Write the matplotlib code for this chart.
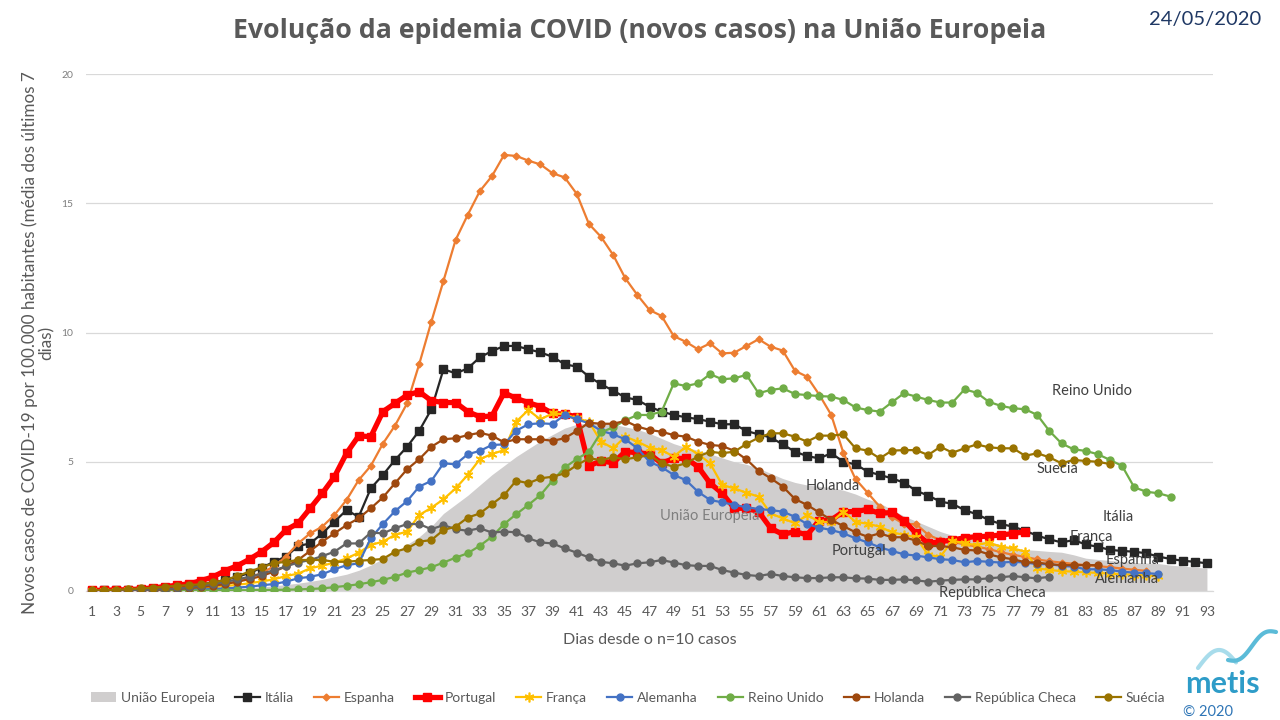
import numpy as np
import matplotlib
matplotlib.use("Agg")
import matplotlib.pyplot as plt
from matplotlib.patches import Patch
from matplotlib.lines import Line2D

plt.rcParams['font.family'] = ['Lato', 'DejaVu Sans']

# ---------------- data ----------------
tick_days = list(range(1, 94, 2))
y_ticks = [0, 5, 10, 15, 20]

uniao_europeia = [0.0, 0.0, 0.01, 0.01, 0.02, 0.02, 0.03, 0.04, 0.05, 0.06,
                  0.07, 0.09, 0.11, 0.13, 0.16, 0.2, 0.25, 0.3, 0.37, 0.45,
                  0.55, 0.65, 0.8, 1.0, 1.25, 1.5, 1.8, 2.1, 2.5, 3.0,
                  3.35, 3.7, 4.1, 4.5, 4.85, 5.2, 5.5, 5.8, 6.05, 6.3,
                  6.45, 6.5, 6.5, 6.45, 6.35, 6.25, 6.1, 5.9, 5.7, 5.55,
                  5.45, 5.3, 5.15, 5.0, 4.9, 4.75, 4.55, 4.35, 4.2, 4.1,
                  4.05, 4.0, 3.9, 3.75, 3.55, 3.4, 3.15, 2.9, 2.7, 2.5,
                  2.3, 2.15, 2.05, 1.97, 1.9, 1.8, 1.65, 1.6, 1.57, 1.53,
                  1.5, 1.4, 1.27, 1.22, 1.18, 1.14, 1.1, 1.08, 1.06, 1.0,
                  0.96, 0.92, 0.88]

italia = [0.01, 0.02, 0.03, 0.04, 0.05, 0.08, 0.1, 0.14, 0.2, 0.26,
          0.33, 0.43, 0.55, 0.7, 0.9, 1.13, 1.33, 1.74, 1.84, 2.23,
          2.68, 3.13, 2.87, 3.97, 4.49, 5.07, 5.58, 6.2, 7.03, 8.58,
          8.42, 8.61, 9.04, 9.28, 9.48, 9.48, 9.35, 9.23, 9.06, 8.77,
          8.68, 8.29, 8.0, 7.75, 7.49, 7.39, 7.13, 6.94, 6.81, 6.72,
          6.65, 6.55, 6.45, 6.45, 6.19, 6.06, 5.94, 5.67, 5.39, 5.22,
          5.13, 5.33, 5.0, 4.9, 4.62, 4.49, 4.36, 4.19, 3.88, 3.69,
          3.46, 3.37, 3.13, 2.97, 2.75, 2.59, 2.49, 2.33, 2.14, 2.0,
          1.88, 1.97, 1.8, 1.71, 1.59, 1.55, 1.52, 1.46, 1.33, 1.24,
          1.17, 1.13, 1.07]

espanha = [0.01, 0.02, 0.02, 0.03, 0.04, 0.05, 0.07, 0.09, 0.12, 0.15,
           0.2, 0.27, 0.38, 0.52, 0.7, 0.95, 1.33, 1.84, 2.23, 2.49,
           2.94, 3.52, 4.29, 4.84, 5.7, 6.4, 7.26, 8.78, 10.42, 12.0,
           13.58, 14.55, 15.47, 16.05, 16.87, 16.83, 16.65, 16.5, 16.16, 16.0,
           15.36, 14.2, 13.7, 13.0, 12.1, 11.45, 10.87, 10.64, 9.86, 9.64,
           9.35, 9.58, 9.19, 9.22, 9.48, 9.74, 9.45, 9.3, 8.52, 8.29,
           7.6, 6.81, 5.34, 4.33, 3.8, 3.26, 2.87, 2.59, 2.59, 2.17,
           1.97, 1.9, 1.8, 1.72, 1.62, 1.5, 1.4, 1.32, 1.22, 1.15,
           1.1, 1.05, 1.0, 0.96, 0.92, 0.87, 0.82, 0.78]

portugal = [0.02, 0.03, 0.04, 0.05, 0.08, 0.12, 0.17, 0.22, 0.28, 0.4,
            0.55, 0.79, 0.98, 1.23, 1.52, 1.88, 2.36, 2.62, 3.2, 3.78,
            4.42, 5.33, 6.0, 5.97, 6.94, 7.26, 7.58, 7.71, 7.36, 7.29,
            7.29, 6.94, 6.74, 6.77, 7.67, 7.45, 7.29, 7.13, 6.87, 6.84,
            6.74, 4.84, 5.03, 4.96, 5.39, 5.35, 5.3, 4.94, 5.13, 5.13,
            4.81, 4.17, 3.78, 3.2, 3.2, 3.07, 2.43, 2.19, 2.3, 2.17,
            2.72, 2.75, 3.07, 3.07, 3.16, 3.0, 3.04, 2.72, 2.23, 1.84,
            1.91, 1.97, 2.06, 2.1, 2.12, 2.17, 2.22, 2.3]

franca = [0.0, 0.01, 0.01, 0.02, 0.03, 0.04, 0.05, 0.07, 0.09, 0.12,
          0.15, 0.19, 0.24, 0.3, 0.37, 0.45, 0.58, 0.67, 0.88, 0.98,
          1.1, 1.26, 1.48, 1.78, 1.91, 2.17, 2.3, 2.94, 3.22, 3.55,
          3.97, 4.49, 5.1, 5.3, 5.45, 6.55, 7.0, 6.64, 6.87, 6.84,
          6.68, 6.55, 5.78, 5.52, 5.97, 5.78, 5.55, 5.45, 5.2, 5.58,
          5.3, 4.94, 4.1, 3.97, 3.8, 3.65, 3.0, 2.81, 2.62, 2.94,
          2.68, 2.66, 3.07, 2.68, 2.6, 2.49, 2.27, 2.17, 2.08, 1.39,
          1.33, 1.95, 1.84, 1.78, 1.87, 1.71, 1.65, 1.52, 0.88, 0.81,
          0.77, 0.75, 0.72, 0.7, 0.67, 0.65, 0.63, 0.6, 0.58]

alemanha = [0.0, 0.0, 0.01, 0.01, 0.02, 0.02, 0.03, 0.04, 0.05, 0.06,
            0.08, 0.1, 0.13, 0.17, 0.22, 0.27, 0.36, 0.49, 0.55, 0.65,
            0.84, 1.0, 1.07, 2.04, 2.59, 3.09, 3.48, 4.04, 4.26, 4.94,
            4.9, 5.29, 5.42, 5.65, 5.67, 6.2, 6.45, 6.49, 6.46, 6.81,
            6.64, 6.49, 6.2, 6.06, 5.87, 5.52, 5.0, 4.79, 4.49, 4.29,
            3.84, 3.52, 3.43, 3.33, 3.24, 3.17, 3.13, 3.07, 2.87, 2.59,
            2.45, 2.36, 2.23, 2.04, 1.88, 1.69, 1.55, 1.42, 1.37, 1.3,
            1.23, 1.2, 1.11, 1.16, 1.13, 1.1, 1.13, 1.1, 1.04, 1.04,
            0.97, 0.94, 0.84, 0.84, 0.81, 0.75, 0.71, 0.69, 0.66]

reino_unido = [0.0, 0.0, 0.0, 0.0, 0.0, 0.0, 0.01, 0.01, 0.01, 0.02,
               0.02, 0.02, 0.03, 0.03, 0.04, 0.04, 0.05, 0.06, 0.08, 0.1,
               0.15, 0.2, 0.26, 0.34, 0.43, 0.55, 0.71, 0.81, 0.92, 1.1,
               1.29, 1.46, 1.75, 2.1, 2.59, 2.97, 3.33, 3.71, 4.27, 4.78,
               5.1, 5.39, 6.14, 6.33, 6.6, 6.81, 6.81, 6.94, 8.03, 7.93,
               8.03, 8.39, 8.19, 8.23, 8.36, 7.65, 7.78, 7.84, 7.62, 7.58,
               7.54, 7.52, 7.39, 7.1, 7.0, 6.94, 7.3, 7.65, 7.52, 7.39,
               7.29, 7.29, 7.8, 7.67, 7.32, 7.16, 7.07, 7.03, 6.81, 6.19,
               5.71, 5.48, 5.42, 5.29, 5.07, 4.84, 4.01, 3.84, 3.78, 3.65]

holanda = [0.0, 0.01, 0.01, 0.02, 0.03, 0.04, 0.06, 0.08, 0.11, 0.15,
           0.2, 0.27, 0.36, 0.46, 0.58, 0.75, 0.95, 1.2, 1.55, 1.91,
           2.23, 2.55, 2.81, 3.2, 3.62, 4.17, 4.71, 5.1, 5.58, 5.87,
           5.91, 6.03, 6.12, 6.01, 5.75, 5.87, 5.87, 5.87, 5.81, 5.91,
           6.19, 6.51, 6.47, 6.47, 6.58, 6.36, 6.23, 6.16, 6.03, 5.97,
           5.78, 5.65, 5.61, 5.42, 5.09, 4.65, 4.36, 4.04, 3.56, 3.33,
           3.04, 2.75, 2.51, 2.27, 2.1, 2.23, 2.08, 2.08, 1.95, 1.74,
           1.74, 1.69, 1.59, 1.57, 1.42, 1.3, 1.23, 1.11, 1.1, 1.04,
           1.0, 1.0, 1.0, 1.0]

republica_checa = [0.0, 0.0, 0.01, 0.02, 0.03, 0.05, 0.07, 0.1, 0.14, 0.2,
                   0.27, 0.35, 0.45, 0.55, 0.67, 0.8, 0.95, 1.1, 1.2, 1.35,
                   1.52, 1.84, 1.84, 2.26, 2.23, 2.43, 2.59, 2.59, 2.39, 2.55,
                   2.39, 2.33, 2.43, 2.26, 2.3, 2.27, 2.04, 1.88, 1.84, 1.65,
                   1.48, 1.3, 1.13, 1.07, 0.98, 1.07, 1.11, 1.2, 1.1, 1.0,
                   0.97, 0.97, 0.81, 0.71, 0.62, 0.58, 0.66, 0.58, 0.53, 0.5,
                   0.5, 0.53, 0.53, 0.49, 0.48, 0.43, 0.43, 0.45, 0.41, 0.36,
                   0.4, 0.43, 0.45, 0.45, 0.49, 0.53, 0.58, 0.53, 0.49, 0.55]

suecia = [0.02, 0.03, 0.05, 0.07, 0.1, 0.13, 0.17, 0.2, 0.23, 0.26,
          0.33, 0.43, 0.58, 0.75, 0.92, 1.07, 1.13, 1.2, 1.2, 1.2,
          1.13, 1.13, 1.17, 1.2, 1.24, 1.52, 1.65, 1.91, 1.97, 2.36,
          2.49, 2.84, 3.0, 3.36, 3.71, 4.27, 4.17, 4.36, 4.42, 4.55,
          4.87, 5.13, 5.07, 5.17, 5.1, 5.17, 5.26, 4.94, 4.81, 4.94,
          5.2, 5.39, 5.33, 5.39, 5.69, 5.93, 6.1, 6.1, 5.97, 5.78,
          6.01, 6.01, 6.06, 5.52, 5.43, 5.13, 5.43, 5.45, 5.45, 5.26,
          5.58, 5.35, 5.52, 5.67, 5.56, 5.52, 5.52, 5.23, 5.33, 5.17,
          4.94, 5.07, 5.03, 5.0, 4.91]

# in-chart labels: (text, day, value)
chart_labels = [("Reino Unido", 83.5, 7.74), ("Suecia", 80.7, 4.72),
                ("Itália", 85.65, 2.86), ("França", 83.5, 2.09),
                ("Espanha", 86.9, 1.2), ("Alemanha", 86.4, 0.46),
                ("República Checa", 75.3, -0.08), ("Holanda", 62.1, 4.06),
                ("Portugal", 64.3, 1.55), ("União Europeia", 52.0, 2.9)]

# ---------------- styles ----------------
series = [
    ("Itália", italia, dict(color="#262626", lw=1.6, marker="s", ms=5.5)),
    ("Espanha", espanha, dict(color="#ED7D31", lw=1.6, marker="D", ms=3.5)),
    ("Portugal", portugal, dict(color="#FF0000", lw=3.8, marker="s", ms=5.5)),
    ("França", franca, dict(color="#FFC000", lw=1.6, marker=(6, 2, 0), ms=7, mew=1.2)),
    ("Alemanha", alemanha, dict(color="#4472C4", lw=1.6, marker="o", ms=5)),
    ("Reino Unido", reino_unido, dict(color="#70AD47", lw=1.6, marker="o", ms=5)),
    ("Holanda", holanda, dict(color="#9E480E", lw=1.6, marker="o", ms=5)),
    ("República Checa", republica_checa, dict(color="#636363", lw=1.6, marker="o", ms=5)),
    ("Suécia", suecia, dict(color="#997300", lw=1.6, marker="o", ms=5)),
]

W, H = 1280, 720
fig = plt.figure(figsize=(12.8, 7.2), dpi=100)
ax = fig.add_axes([86 / W, 1 - 591 / H, (1213 - 86) / W, (591 - 74) / H])

eu_days = np.arange(1, len(uniao_europeia) + 1)
ax.fill_between(eu_days, 0, uniao_europeia, color="#D0CECE", lw=0, zorder=1)

for name, vals, st in series:
    d = np.arange(1, len(vals) + 1)
    kw = dict(st)
    color = kw.pop("color")
    ax.plot(d, vals, color=color, mfc=color, mec=color, zorder=3, **kw)

ax.set_xlim(0.5, 93.5)
ax.set_ylim(0, 20)
ax.set_xticks(tick_days)
ax.set_xticklabels([str(t) for t in tick_days], fontsize=10, color="#595959")
ax.set_yticks(y_ticks)
ax.set_yticklabels([str(t) for t in y_ticks], fontsize=7.5, color="#7F7F7F")
ax.tick_params(axis="both", length=0)
ax.tick_params(axis="x", pad=10.5)
ax.tick_params(axis="y", pad=9)
ax.grid(axis="y", color="#D9D9D9", lw=0.9, zorder=0)
ax.set_axisbelow(True)
for s in ["top", "right", "left"]:
    ax.spines[s].set_visible(False)
ax.spines["bottom"].set_color("#D9D9D9")
ax.spines["bottom"].set_linewidth(0.9)

for txt, dx, vy in chart_labels:
    c = "#7F7F7F" if txt == "União Europeia" else "#404040"
    ax.text(dx, vy, txt, fontsize=10.5, color=c, ha="center", va="center", zorder=5)

ax.set_xlabel("Dias desde o n=10 casos", fontsize=11.5, color="#595959", labelpad=11)
fig.text(38 / W, 1 - 343 / H,
         "Novos casos de COVID-19 por 100.000 habitantes (média dos últimos 7\ndias)",
         rotation=90, fontsize=12.3, color="#595959", ha="center", va="center",
         multialignment="center", linespacing=1.1)

fig.text(640 / W, 1 - 31 / H, "Evolução da epidemia COVID (novos casos) na União Europeia",
         fontsize=19.2, fontweight="bold", color="#595959", ha="center", va="center",
         family=["Open Sans", "DejaVu Sans"])
fig.text(1205 / W, 1 - 20 / H, "24/05/2020", fontsize=14.5, color="#1F3864",
         ha="center", va="center")

# legend
handles = [Patch(facecolor="#D0CECE", edgecolor="none", label="União Europeia")]
for name, vals, st in series:
    kw = dict(st)
    color = kw.pop("color")
    handles.append(Line2D([], [], color=color, mfc=color, mec=color, label=name,
                          lw=kw.get("lw", 1.6), marker=kw.get("marker"),
                          ms=kw.get("ms", 5), mew=kw.get("mew", 1)))
leg = fig.legend(handles=handles, loc="center", bbox_to_anchor=(628 / W, 1 - 698 / H),
                 ncol=10, frameon=False, fontsize=10, handlelength=1.8,
                 handletextpad=0.35, columnspacing=1.45)
for t in leg.get_texts():
    t.set_color("#595959")

# logo
lax = fig.add_axes([0, 0, 1, 1], facecolor="none")
lax.set_xlim(0, W)
lax.set_ylim(H, 0)
lax.axis("off")
tt = np.linspace(0, 1, 60)
wx1 = 1198 + 38 * tt
wy1 = 668 - 18 * np.sin(np.pi * tt * 0.9)
lax.plot(wx1, wy1, color="#A8DCEB", lw=3, solid_capstyle="round")
wx2 = 1228 + 48 * tt
wy2 = 660 - 28 * tt + 6 * np.sin(np.pi * tt * 2)
lax.plot(wx2, wy2, color="#5BBBD8", lw=3, solid_capstyle="round")
lax.text(1222, 684, "metis", fontsize=22, fontweight="bold", color="#2E9CC8",
         ha="center", va="center")
lax.text(1208, 712, "© 2020", fontsize=10.5, color="#2E75B6", ha="center", va="center")

fig.savefig("out.png", dpi=100)
